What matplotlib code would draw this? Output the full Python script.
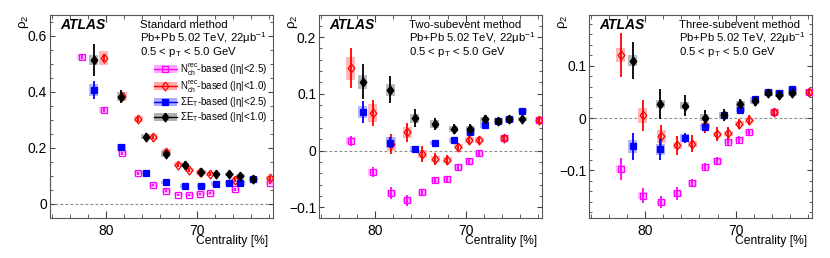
import numpy as np
import matplotlib
matplotlib.use("Agg")
import matplotlib.pyplot as plt
from matplotlib.ticker import MultipleLocator, FuncFormatter
from matplotlib.patches import Patch
from matplotlib.lines import Line2D

plt.rcParams["font.family"] = ["Liberation Sans", "DejaVu Sans"]
plt.rcParams["mathtext.fontset"] = "custom"
plt.rcParams["mathtext.rm"] = "Liberation Sans"
plt.rcParams["mathtext.it"] = "Liberation Sans:italic"
plt.rcParams["mathtext.bf"] = "Liberation Sans:bold"

nan = np.nan

# centrality of the bins, per estimator
cent_nch = [82.65, 80.26, 78.2, 76.43, 74.78, 73.38, 72.02, 70.8, 69.63, 68.53, 65.74, 61.88]
cent_et = [81.36, 78.3, 75.6, 73.4, 71.3, 69.5, 67.9, 66.4, 65.2, 63.75]

methods = ["Standard method", "Two-subevent method", "Three-subevent method"]
labels = [r"N$_\mathrm{ch}^\mathrm{rec}$-based (|η|<2.5)",
          r"N$_\mathrm{ch}^\mathrm{rec}$-based (|η|<1.0)",
          r"ΣE$_\mathrm{T}$-based (|η|<2.5)",
          r"ΣE$_\mathrm{T}$-based (|η|<1.0)"]

# standard method
std_nch25 = [0.525, 0.335, 0.181, 0.109, 0.067, 0.047, 0.032, 0.031, 0.035, 0.038, 0.051, 0.075]
std_nch25_stat = [0.008, 0.006, 0.005, 0.005, 0.005, 0.004, 0.004, 0.004, 0.004, 0.004, 0.004, 0.004]
std_nch25_sys = [0.012, 0.010, 0.008, 0.007, 0.007, 0.007, 0.006, 0.006, 0.006, 0.006, 0.007, 0.008]
std_nch10 = [nan, 0.522, 0.385, 0.302, 0.238, 0.185, 0.140, 0.120, 0.112, 0.106, 0.086, 0.092]
std_nch10_stat = [nan, 0.012, 0.010, 0.008, 0.008, 0.008, 0.007, 0.007, 0.007, 0.007, 0.007, 0.007]
std_nch10_sys = [nan, 0.025, 0.015, 0.010, 0.010, 0.010, 0.008, 0.008, 0.008, 0.008, 0.008, 0.008]
std_et25 = [0.407, 0.202, 0.110, 0.076, 0.065, 0.063, 0.072, 0.075, 0.075, 0.087]
std_et25_stat = [0.032, 0.012, 0.006, 0.005, 0.005, 0.005, 0.005, 0.005, 0.005, 0.005]
std_et25_sys = [0.020, 0.012, 0.008, 0.007, 0.007, 0.007, 0.007, 0.007, 0.007, 0.007]
std_et10 = [0.514, 0.383, 0.240, 0.178, 0.139, 0.114, 0.107, 0.105, 0.100, 0.089]
std_et10_stat = [0.058, 0.024, 0.012, 0.012, 0.010, 0.009, 0.008, 0.007, 0.007, 0.007]
std_et10_sys = [0.018, 0.015, 0.010, 0.010, 0.008, 0.007, 0.006, 0.006, 0.006, 0.006]

# two-subevent method
two_nch25 = [0.017, -0.038, -0.075, -0.088, -0.074, -0.052, -0.050, -0.029, -0.018, -0.005, 0.022, 0.053]
two_nch25_stat = [0.009, 0.009, 0.010, 0.009, 0.007, 0.006, 0.005, 0.005, 0.005, 0.005, 0.005, 0.004]
two_nch25_sys = [0.006, 0.006, 0.006, 0.005, 0.005, 0.005, 0.005, 0.005, 0.005, 0.005, 0.005, 0.004]
two_nch10 = [0.145, 0.066, 0.012, 0.032, -0.006, -0.015, -0.017, 0.007, 0.019, 0.018, 0.022, 0.053]
two_nch10_stat = [0.035, 0.023, 0.018, 0.017, 0.014, 0.010, 0.009, 0.007, 0.007, 0.006, 0.006, 0.005]
two_nch10_sys = [0.020, 0.016, 0.012, 0.010, 0.007, 0.006, 0.005, 0.005, 0.005, 0.005, 0.005, 0.004]
two_et25 = [0.068, 0.014, 0.0035, 0.013, 0.018, 0.033, 0.045, 0.052, 0.055, 0.070]
two_et25_stat = [0.019, 0.010, 0.005, 0.004, 0.004, 0.004, 0.004, 0.004, 0.004, 0.004]
two_et25_sys = [0.010, 0.010, 0.005, 0.004, 0.004, 0.006, 0.006, 0.004, 0.004, 0.004]
two_et10 = [0.121, 0.107, 0.057, 0.047, 0.038, 0.038, 0.055, 0.052, 0.055, 0.056]
two_et10_stat = [0.031, 0.024, 0.016, 0.010, 0.008, 0.008, 0.007, 0.006, 0.006, 0.005]
two_et10_sys = [0.013, 0.011, 0.008, 0.007, 0.006, 0.006, 0.005, 0.005, 0.005, 0.004]

# three-subevent method
three_nch25 = [-0.097, -0.148, -0.160, -0.144, -0.124, -0.093, -0.082, -0.045, -0.041, -0.027, 0.011, 0.050]
three_nch25_stat = [0.021, 0.015, 0.012, 0.012, 0.008, 0.007, 0.007, 0.006, 0.006, 0.005, 0.005, 0.004]
three_nch25_sys = [0.008, 0.007, 0.006, 0.006, 0.005, 0.005, 0.005, 0.005, 0.005, 0.004, 0.005, 0.004]
three_nch10 = [0.120, 0.005, -0.035, -0.052, -0.049, -0.014, -0.031, -0.029, -0.011, -0.004, 0.011, 0.050]
three_nch10_stat = [0.042, 0.030, 0.021, 0.018, 0.016, 0.014, 0.013, 0.012, 0.010, 0.009, 0.007, 0.005]
three_nch10_sys = [0.013, 0.015, 0.012, 0.007, 0.006, 0.006, 0.005, 0.005, 0.005, 0.005, 0.006, 0.005]
three_et25 = [-0.054, -0.060, -0.038, -0.017, 0.005, 0.016, 0.036, 0.049, 0.048, 0.055]
three_et25_stat = [0.026, 0.020, 0.010, 0.007, 0.006, 0.005, 0.005, 0.004, 0.004, 0.004]
three_et25_sys = [0.012, 0.010, 0.007, 0.006, 0.005, 0.005, 0.005, 0.005, 0.005, 0.005]
three_et10 = [0.110, 0.027, 0.024, 0.001, 0.006, 0.027, 0.032, 0.048, 0.045, 0.047]
three_et10_stat = [0.035, 0.029, 0.020, 0.015, 0.012, 0.010, 0.008, 0.007, 0.006, 0.006]
three_et10_sys = [0.010, 0.008, 0.007, 0.006, 0.005, 0.005, 0.005, 0.005, 0.005, 0.005]

panels = [
    [(std_nch25, std_nch25_stat, std_nch25_sys), (std_nch10, std_nch10_stat, std_nch10_sys),
     (std_et25, std_et25_stat, std_et25_sys), (std_et10, std_et10_stat, std_et10_sys)],
    [(two_nch25, two_nch25_stat, two_nch25_sys), (two_nch10, two_nch10_stat, two_nch10_sys),
     (two_et25, two_et25_stat, two_et25_sys), (two_et10, two_et10_stat, two_et10_sys)],
    [(three_nch25, three_nch25_stat, three_nch25_sys), (three_nch10, three_nch10_stat, three_nch10_sys),
     (three_et25, three_et25_stat, three_et25_sys), (three_et10, three_et10_stat, three_et10_sys)],
]
ylims = [(-0.051, 0.675), (-0.119, 0.239), (-0.191, 0.197)]
ymajor = [0.2, 0.1, 0.1]
yminor = [0.05, 0.02, 0.02]

# ROOT-like diamond, a bit wider than matplotlib's thin diamond
diamond = [(0, 1), (0.74, 0), (0, -1), (-0.74, 0), (0, 1)]

# style per series: x, colour, box colour, marker, size, filled
styles = [
    (cent_nch, "#ff00ff", "#ffa8ff", "s", 4.6, False),
    (cent_nch, "#ff0000", "#ffabab", diamond, 6.4, False),
    (cent_et, "#0000ff", "#aaaaff", "s", 5.0, True),
    (cent_et, "#000000", "#b0b0b0", diamond, 6.4, True),
]


def fmt(v, pos):
    if abs(v) < 1e-9:
        return "0"
    return ("%g" % v).replace("-", "\u2212")


fig = plt.figure(figsize=(8.3, 2.58), dpi=100)
lefts = [50, 319, 589]
W, H = 830.0, 258.0

for i, left in enumerate(lefts):
    ax = fig.add_axes([left / W, 1 - 218 / H, 223 / W, 203 / H])
    ax.set_xlim(86.17, 61.59)
    ax.set_ylim(*ylims[i])
    ax.axhline(0, color="#8a8a8a", lw=0.8, ls=(0, (2.5, 2)), zorder=1)

    handles = []
    for (vals, stat, sys), (xs, col, boxcol, mk, ms, filled) in zip(panels[i], styles):
        v = np.array(vals, dtype=float)
        s = np.array(sys, dtype=float)
        ax.bar(xs, 2 * s, bottom=v - s, width=1.0, color=boxcol, alpha=0.85,
               linewidth=0, zorder=2)
    for (vals, stat, sys), (xs, col, boxcol, mk, ms, filled) in zip(panels[i], styles):
        ax.errorbar(xs, vals, yerr=stat, fmt="none", ecolor=col,
                    elinewidth=1.3, capsize=0, zorder=3)
        ax.plot(xs, vals, ls="none", marker=mk, ms=ms, color=col,
                mfc=col if filled else "none", mec=col, mew=0.9, zorder=3)
        line = Line2D([], [], color=col, marker=mk, ms=ms, lw=1.0,
                      mfc=col if filled else "none", mec=col, mew=0.9)
        handles.append((Patch(facecolor=boxcol, edgecolor="none"), line))

    ax.xaxis.set_major_locator(MultipleLocator(10))
    ax.xaxis.set_minor_locator(MultipleLocator(2))
    ax.yaxis.set_major_locator(MultipleLocator(ymajor[i]))
    ax.yaxis.set_minor_locator(MultipleLocator(yminor[i]))
    ax.yaxis.set_major_formatter(FuncFormatter(fmt))
    ax.tick_params(which="both", direction="in", top=True, right=True,
                   color="#444444", labelsize=10)
    ax.tick_params(axis="x", which="major", length=5, pad=4)
    ax.tick_params(axis="x", which="minor", length=2.8)
    ax.tick_params(axis="y", which="major", length=3.6, pad=2)
    ax.tick_params(axis="y", which="minor", length=2)
    for sp in ax.spines.values():
        sp.set_color("#555555")
        sp.set_linewidth(0.8)

    ax.set_ylabel(r"ρ$_2$", fontsize=9.5, loc="top")
    ax.yaxis.set_label_coords(-0.085, 1.0)
    ax.set_xlabel("Centrality [%]", fontsize=8.7, loc="right")
    ax.xaxis.set_label_coords(0.978, -0.085)

    ax.text(0.045, 0.951, "ATLAS", transform=ax.transAxes, fontsize=10,
            fontweight="bold", fontstyle="italic", va="center")
    ax.text(0.404, 0.951, methods[i], transform=ax.transAxes, fontsize=8.2, va="center")
    ax.text(0.404, 0.885, r"Pb+Pb 5.02 TeV, 22μb$^{-1}$", transform=ax.transAxes,
            fontsize=8.2, va="center")
    ax.text(0.404, 0.816, r"0.5 < p$_\mathrm{T}$ < 5.0 GeV", transform=ax.transAxes,
            fontsize=8.2, va="center")

    if i == 0:
        ax.legend(handles, labels, loc="upper left", bbox_to_anchor=(0.465, 0.77),
                  frameon=False, fontsize=7.0, borderpad=0, borderaxespad=0,
                  handlelength=2.4, handletextpad=0.3, labelspacing=0.08,
                  handleheight=0.9)

fig.savefig("out.png", dpi=100)
